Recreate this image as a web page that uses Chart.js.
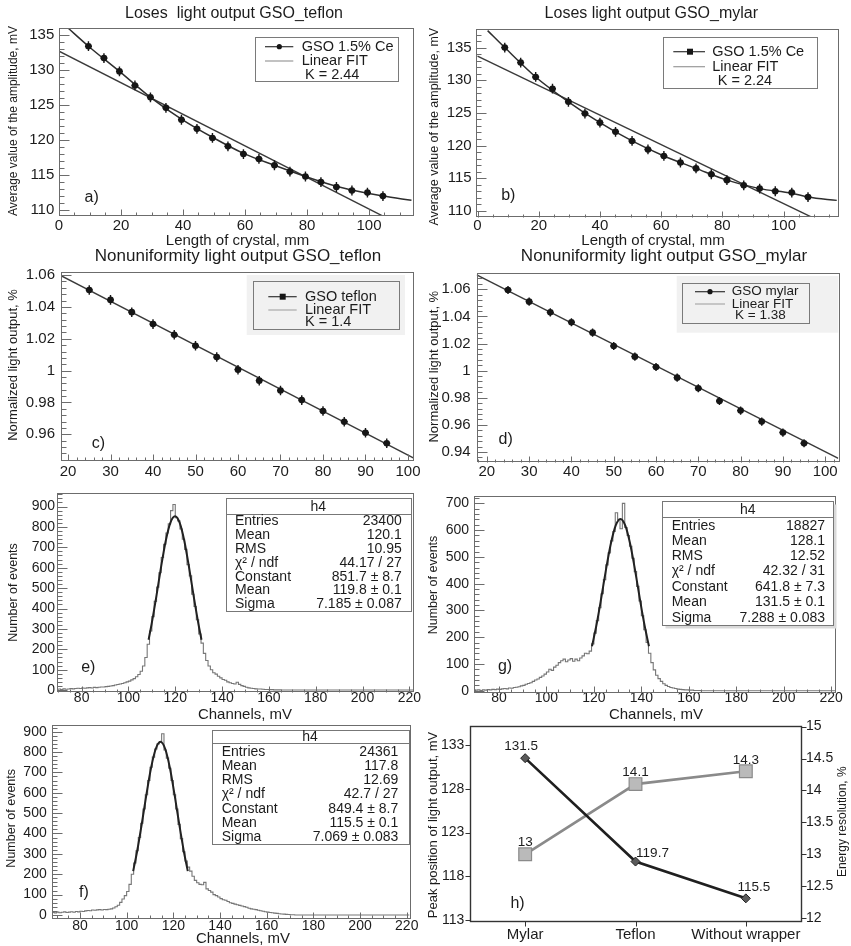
<!DOCTYPE html>
<html>
<head>
<meta charset="utf-8">
<title>GSO light output</title>
<script src="https://cdn.jsdelivr.net/npm/chart.js@4.4.1/dist/chart.umd.min.js"></script>
<style>
  html, body { margin: 0; padding: 0; background: #fff; }
  #page { position: relative; width: 851px; height: 946px; overflow: hidden; background: #fff; }
  #page canvas { position: absolute; }
</style>
</head>
<body>
<div id="page"></div>
<script>
const FONT = "'Liberation Sans', Arial, Helvetica, sans-serif";
const TXT = '#1c1c1c';
const FRAME = '#6c6c6c';

// a) b) amplitude along the crystal
const lenTeflon = [9.5, 14.5, 19.5, 24.5, 29.5, 34.5, 39.5, 44.5, 49.5, 54.5, 59.5, 64.5, 69.5, 74.5, 79.5, 84.5, 89.5, 94.5, 99.5, 104.5];
const ampTeflon = [133.4, 131.7, 129.8, 127.8, 126.1, 124.6, 122.9, 121.6, 120.3, 119.1, 118.0, 117.3, 116.4, 115.5, 114.8, 114.0, 113.3, 112.8, 112.5, 112.0];
const errTeflon = [0.7, 0.7, 0.7, 0.7, 0.7, 0.7, 0.7, 0.7, 0.7, 0.7, 0.7, 0.7, 0.7, 0.7, 0.7, 0.7, 0.7, 0.7, 0.7, 0.7];
const smoothTeflonX = [2.9, 9.5, 19.5, 29.5, 39.5, 49.5, 59.5, 69.5, 79.5, 89.5, 99.5, 104.5, 113.7];
const smoothTeflonY = [136.0, 133.4, 129.8, 126.1, 123.0, 120.4, 118.1, 116.4, 114.8, 113.4, 112.4, 112.0, 111.4];
const fitTeflonX = [0, 110];
const fitTeflonY = [132.7, 107.9];

const lenMylar = [8.9, 14.1, 19.0, 24.5, 29.7, 35.1, 40.0, 45.1, 50.5, 55.7, 60.9, 66.3, 71.4, 76.4, 81.5, 87.0, 92.2, 97.3, 102.7, 108.0];
const ampMylar = [135.0, 132.7, 130.5, 128.7, 126.7, 124.9, 123.5, 122.1, 120.7, 119.4, 118.4, 117.4, 116.5, 115.6, 114.7, 113.9, 113.4, 113.0, 112.8, 112.1];
const errMylar = [0.75, 0.75, 0.75, 0.75, 0.75, 0.75, 0.75, 0.75, 0.75, 0.75, 0.75, 0.75, 0.75, 0.75, 0.75, 0.75, 0.75, 0.75, 0.75, 0.75];
const smoothMylarX = [3.3, 8.9, 19.0, 29.7, 40.0, 50.5, 60.9, 71.4, 81.5, 92.2, 102.7, 108.0, 117.4];
const smoothMylarY = [137.6, 135.0, 130.5, 126.7, 123.5, 120.7, 118.4, 116.5, 114.7, 113.4, 112.7, 112.1, 111.6];
const fitMylarX = [0, 112];
const fitMylarY = [133.7, 108.4];

const lengthTicks = [0, 20, 40, 60, 80, 100];
const amplitudeTicks = [110, 115, 120, 125, 130, 135];

// c) d) normalized light output
const posNorm = [25, 30, 35, 40, 45, 50, 55, 60, 65, 70, 75, 80, 85, 90, 95];
const normTeflon = [1.0506, 1.0444, 1.0367, 1.0292, 1.0225, 1.0156, 1.0085, 1.0006, 0.9937, 0.9875, 0.9815, 0.9746, 0.9679, 0.9610, 0.9544];
const normMylar = [1.0595, 1.0509, 1.0430, 1.0357, 1.0280, 1.0182, 1.0103, 1.0027, 0.9948, 0.9870, 0.9776, 0.9705, 0.9624, 0.9543, 0.9464];
const errNorm = [0.003, 0.003, 0.003, 0.003, 0.003, 0.003, 0.003, 0.003, 0.003, 0.003, 0.003, 0.003, 0.003, 0.003, 0.003];
const fitNormTeflonX = [18.35, 101.25];
const fitNormTeflonY = [1.0596, 0.9452];
const fitNormMylarX = [17.6, 103.1];
const fitNormMylarY = [1.0706, 0.9353];

const positionTicks = [20, 30, 40, 50, 60, 70, 80, 90, 100];
const normTicksTeflon = [0.96, 0.98, 1, 1.02, 1.04, 1.06];
const normTicksMylar = [0.94, 0.96, 0.98, 1, 1.02, 1.04, 1.06];

// e) g) f) amplitude spectra: bin left edges (mV) and counts
const edgesEG = [
  70, 71, 72, 73, 74, 75, 76, 77, 78, 79,
  80, 81, 82, 83, 84, 85, 86, 87, 88, 89,
  90, 91, 92, 93, 94, 95, 96, 97, 98, 99,
  100, 101, 102, 103, 104, 105, 106, 107, 108, 109,
  110, 111, 112, 113, 114, 115, 116, 117, 118, 119,
  120, 121, 122, 123, 124, 125, 126, 127, 128, 129,
  130, 131, 132, 133, 134, 135, 136, 137, 138, 139,
  140, 141, 142, 143, 144, 145, 146, 147, 148, 149,
  150, 151, 152, 153, 154, 155, 156, 157, 158, 159,
  160, 161, 162, 163, 164, 165, 166, 167, 168, 169,
  222];
const countsE = [
  5, 3, 6, 4, 5, 7, 6, 8, 9, 8,
  10, 9, 11, 12, 10, 13, 12, 14, 15, 15,
  17, 18, 20, 22, 25, 27, 30, 32, 36, 40,
  44, 50, 56, 65, 76, 92, 118, 160, 225, 290,
  360, 435, 505, 575, 650, 715, 770, 815, 880, 910,
  845, 830, 790, 740, 690, 615, 560, 470, 410, 345,
  275, 230, 180, 145, 118, 100, 85, 78, 68, 60,
  52, 48, 40, 36, 32, 30, 38, 28, 22, 18,
  14, 11, 9, 8, 6, 5, 5, 4, 3, 3,
  2, 2, 1, 1, 1, 0, 0, 0, 0, 0,
  0];
const countsG = [
  2, 3, 1, 3, 2, 4, 3, 5, 4, 6,
  5, 7, 8, 7, 10, 9, 12, 13, 15, 18,
  20, 24, 27, 30, 35, 40, 44, 50, 55, 62,
  70, 80, 76, 88, 95, 105, 112, 118, 108, 115,
  120, 110, 118, 112, 122, 130, 140, 138, 148, 175,
  215, 262, 310, 362, 415, 470, 515, 560, 595, 665,
  640, 605, 700, 610, 580, 540, 495, 445, 390, 335,
  280, 228, 180, 140, 105, 78, 58, 45, 35, 26,
  20, 16, 12, 10, 8, 6, 5, 4, 3, 3,
  2, 2, 1, 1, 1, 0, 0, 0, 0, 0,
  0];
const edgesF = [
  68, 69,
  70, 71, 72, 73, 74, 75, 76, 77, 78, 79,
  80, 81, 82, 83, 84, 85, 86, 87, 88, 89,
  90, 91, 92, 93, 94, 95, 96, 97, 98, 99,
  100, 101, 102, 103, 104, 105, 106, 107, 108, 109,
  110, 111, 112, 113, 114, 115, 116, 117, 118, 119,
  120, 121, 122, 123, 124, 125, 126, 127, 128, 129,
  130, 131, 132, 133, 134, 135, 136, 137, 138, 139,
  140, 141, 142, 143, 144, 145, 146, 147, 148, 149,
  150, 151, 152, 153, 154, 155, 156, 157, 158, 159,
  160, 161, 162, 163, 164, 165, 166, 167, 168, 169,
  170, 171, 172, 173,
  222];
const countsF = [
  12, 10,
  14, 11, 13, 15, 12, 14, 16, 13, 17, 15,
  18, 17, 20, 22, 21, 24, 23, 25, 26, 24,
  27, 26, 28, 30, 34, 40, 48, 62, 78, 95,
  115, 150, 200, 255, 315, 380, 450, 520, 590, 660,
  725, 775, 815, 840, 850, 890, 810, 770, 720, 660,
  590, 520, 445, 375, 310, 265, 235, 215, 190, 170,
  158, 150, 148, 160, 128, 120, 112, 100, 95, 88,
  80, 75, 72, 66, 60, 57, 53, 50, 47, 44,
  41, 38, 33, 30, 28, 26, 23, 21, 18, 16,
  14, 12, 11, 9, 8, 6, 5, 4, 3, 2,
  1, 1, 0, 0,
  0];

// gaussian fit curves
const gaussEX = [108.6, 109.9, 111.9, 113.9, 115.9, 117.9, 119.9, 121.9, 123.9, 125.9, 127.9, 129.9, 131.2];
const gaussEY = [247, 324, 458, 601, 730, 820, 852, 820, 730, 601, 458, 324, 247];
const gaussGX = [119.2, 121.2, 123.2, 125.2, 127.2, 129.2, 131.2, 133.2, 135.2, 137.2, 139.2, 141.2, 143.2];
const gaussGY = [166, 251, 352, 458, 552, 618, 642, 618, 552, 458, 352, 251, 166];
const gaussFX = [102.8, 104.5, 106.5, 108.5, 110.5, 112.5, 114.5, 116.5, 118.5, 120.5, 122.5, 124.5, 126.2];
const gaussFY = [215, 313, 448, 593, 724, 816, 850, 816, 724, 593, 448, 313, 215];

const channelTicks = [80, 100, 120, 140, 160, 180, 200, 220];
const eventTicks900 = [0, 100, 200, 300, 400, 500, 600, 700, 800, 900];
const eventTicks700 = [0, 100, 200, 300, 400, 500, 600, 700];

const statNames = ['Entries', 'Mean', 'RMS', 'χ² / ndf', 'Constant', 'Mean', 'Sigma'];
const statsE = ['23400', '120.1', '10.95', '44.17 / 27', '851.7 ± 8.7', '119.8 ± 0.1', '7.185 ± 0.087'];
const statsG = ['18827', '128.1', '12.52', '42.32 / 31', '641.8 ± 7.3', '131.5 ± 0.1', '7.288 ± 0.083'];
const statsF = ['24361', '117.8', '12.69', '42.7 / 27', '849.4 ± 8.7', '115.5 ± 0.1', '7.069 ± 0.083'];

// h) wrapper comparison
const wrappers = ['Mylar', 'Teflon', 'Without wrapper'];
const peakPosition = [131.5, 119.7, 115.5];
const energyResolution = [13, 14.1, 14.3];
const peakTicks = [113, 118, 123, 128, 133];
const resolutionTicks = [12, 12.5, 13, 13.5, 14, 14.5, 15];

Chart.defaults.font.family = FONT;
Chart.defaults.color = TXT;

const page = document.getElementById('page');

function xy(xs, ys) {
  return xs.map((x, i) => ({ x: x, y: ys[i] }));
}

function markers(xs, ys, errs) {
  return {
    data: xy(xs, ys), showLine: false, pointStyle: 'circle', pointRadius: 3.3,
    pointBackgroundColor: '#161616', pointBorderColor: '#161616', pointBorderWidth: 0,
    errorBars: errs
  };
}

function line(xs, ys, color, width, smooth) {
  return {
    data: xy(xs, ys), borderColor: color, borderWidth: width, pointRadius: 0,
    cubicInterpolationMode: smooth ? 'monotone' : 'default', tension: 0
  };
}

function histo(xs, ys) {
  return { data: xy(xs, ys), stepped: true, borderColor: '#767676', borderWidth: 1.1, pointRadius: 0 };
}

function write(ctx, s, x, y, size, align, rot) {
  ctx.save();
  ctx.translate(x, y);
  if (rot) ctx.rotate(rot * Math.PI / 180);
  ctx.font = size + 'px ' + FONT;
  ctx.fillStyle = TXT;
  ctx.textAlign = align || 'center';
  ctx.textBaseline = 'middle';
  ctx.fillText(s, 0, 0);
  ctx.restore();
}

// ROOT style tick marks, majors from the scale, minors in between
function tickMarks(ctx, scale, a, side, spec) {
  const [majLen, minLen, nSub, out] = spec;
  const pix = scale.ticks.map((t, i) => scale.getPixelForTick(i));
  const horiz = side === 'bottom';
  const lo = horiz ? a.left : a.top, hi = horiz ? a.right : a.bottom;
  const marks = pix.map(p => [p, majLen]);
  if (nSub > 1 && pix.length > 1) {
    const step = (pix[1] - pix[0]) / nSub;
    for (let k = -nSub * 40; k <= nSub * (pix.length + 40); k++) {
      if (k % nSub === 0) continue;
      const p = pix[0] + k * step;
      if (p > lo + 0.5 && p < hi - 0.5) marks.push([p, minLen]);
    }
  }
  ctx.beginPath();
  marks.forEach(([p, len]) => {
    const q = Math.round(p) + 0.5;
    if (side === 'bottom') {
      const y0 = Math.round(a.bottom) + 0.5;
      ctx.moveTo(q, y0); ctx.lineTo(q, out ? y0 + len : y0 - len);
    } else if (side === 'left') {
      const x0 = Math.round(a.left) + 0.5;
      ctx.moveTo(x0, q); ctx.lineTo(out ? x0 - len : x0 + len, q);
    } else {
      const x0 = Math.round(a.right) + 0.5;
      ctx.moveTo(x0, q); ctx.lineTo(out ? x0 + len : x0 - len, q);
    }
  });
  ctx.stroke();
}

function drawLegend(ctx, lg, ox, oy) {
  const b = lg.box;
  ctx.save();
  if (lg.shade) {
    const s = lg.shade;
    ctx.fillStyle = '#f1f1f1';
    ctx.fillRect(s[0] - ox, s[1] - oy, s[2] - s[0], s[3] - s[1]);
  } else {
    ctx.fillStyle = '#fff';
    ctx.fillRect(b[0] - ox, b[1] - oy, b[2] - b[0], b[3] - b[1]);
  }
  ctx.strokeStyle = '#7a7a7a';
  ctx.lineWidth = 1;
  ctx.strokeRect(Math.round(b[0] - ox) + 0.5, Math.round(b[1] - oy) + 0.5, Math.round(b[2] - b[0]), Math.round(b[3] - b[1]));
  lg.rows.forEach(r => {
    const y = r.y - oy;
    if (r.line) {
      ctx.strokeStyle = r.color;
      ctx.lineWidth = 1.2;
      ctx.beginPath();
      ctx.moveTo(r.line[0] - ox, y);
      ctx.lineTo(r.line[1] - ox, y);
      ctx.stroke();
    }
    if (r.marker) {
      ctx.fillStyle = '#161616';
      ctx.beginPath();
      if (r.marker === 'dot') ctx.arc(r.mx - ox, y, 2.6, 0, Math.PI * 2);
      else ctx.rect(r.mx - ox - 3, y - 3, 6, 6);
      ctx.fill();
    }
    write(ctx, r.text, r.tx - ox, y, lg.size, 'left');
  });
  ctx.restore();
}

function drawStats(ctx, st, ox, oy) {
  const b = st.box;
  const x0 = Math.round(b[0] - ox) + 0.5, y0 = Math.round(b[1] - oy) + 0.5;
  const w = Math.round(b[2] - b[0]), h = Math.round(b[3] - b[1]);
  ctx.save();
  if (st.shadow) {
    ctx.fillStyle = '#d9d9d9';
    ctx.fillRect(x0 + 3, y0 + 3, w, h);
  }
  ctx.fillStyle = '#fff';
  ctx.fillRect(x0, y0, w, h);
  ctx.strokeStyle = '#777';
  ctx.lineWidth = 1;
  ctx.strokeRect(x0, y0, w, h);
  const hy = Math.round(st.line - oy) + 0.5;
  ctx.beginPath();
  ctx.moveTo(x0, hy);
  ctx.lineTo(x0 + w, hy);
  ctx.stroke();
  ctx.restore();
  write(ctx, 'h4', st.hx - ox, st.hy - oy, st.size);
  statNames.forEach((n, i) => {
    write(ctx, n, st.lx - ox, st.rows[i] - oy, st.size, 'left');
    write(ctx, st.values[i], st.vx - ox, st.rows[i] - oy, st.size, 'right');
  });
}

function decor(p) {
  const ox = p.canvas[0], oy = p.canvas[1];
  return {
    id: 'decor',
    afterDatasetsDraw(chart) {
      const ctx = chart.ctx, a = chart.chartArea;
      // error bars
      chart.data.datasets.forEach((ds, i) => {
        if (!ds.errorBars) return;
        const meta = chart.getDatasetMeta(i);
        const ys = chart.scales[meta.yAxisID];
        ctx.save();
        ctx.strokeStyle = '#161616';
        ctx.lineWidth = 1.4;
        ctx.beginPath();
        meta.data.forEach((pt, j) => {
          const v = ds.data[j].y, e = ds.errorBars[j];
          ctx.moveTo(pt.x, ys.getPixelForValue(v + e));
          ctx.lineTo(pt.x, ys.getPixelForValue(v - e));
          ctx.moveTo(pt.x - 3.5, pt.y);
          ctx.lineTo(pt.x + 3.5, pt.y);
        });
        ctx.stroke();
        ctx.restore();
      });
      // frame and tick marks
      ctx.save();
      ctx.strokeStyle = p.frameColor || FRAME;
      ctx.lineWidth = p.frameWidth || 1;
      ctx.strokeRect(Math.round(a.left) + 0.5, Math.round(a.top) + 0.5, Math.round(a.right - a.left), Math.round(a.bottom - a.top));
      ctx.lineWidth = 1;
      tickMarks(ctx, chart.scales.x, a, 'bottom', p.x.marks);
      tickMarks(ctx, chart.scales.y, a, 'left', p.y.marks);
      if (p.y2) tickMarks(ctx, chart.scales.y2, a, 'right', p.y2.marks);
      ctx.restore();
      // value labels next to points
      (p.pointLabels || []).forEach(pl => {
        const meta = chart.getDatasetMeta(pl.ds);
        meta.data.forEach((pt, j) => {
          write(ctx, String(chart.data.datasets[pl.ds].data[j]), pt.x + pl.off[j][0], pt.y + pl.off[j][1], pl.size);
        });
      });
      if (p.legend) drawLegend(ctx, p.legend, ox, oy);
      if (p.stats) drawStats(ctx, p.stats, ox, oy);
      p.texts.forEach(t => write(ctx, t[0], t[1] - ox, t[2] - oy, t[3], t[4] || 'center', t[5] || 0));
    }
  };
}

function axis(ax, position, fix) {
  const opts = {
    type: ax.type || 'linear',
    position: position,
    min: ax.min,
    max: ax.max,
    offset: ax.type === 'category',
    grid: { display: false, drawTicks: false },
    border: { display: false },
    ticks: {
      autoSkip: false, maxRotation: 0, minRotation: 0, padding: ax.pad, color: TXT,
      font: { family: FONT, size: ax.size, lineHeight: 1 }
    },
    afterFit: s => {
      fix(s);
      s.paddingLeft = 0; s.paddingRight = 0; s.paddingTop = 0; s.paddingBottom = 0;
    }
  };
  if (ax.values) {
    opts.afterBuildTicks = s => { s.ticks = ax.values.map(v => ({ value: v })); };
    opts.ticks.callback = v => String(+Number(v).toFixed(3));
  }
  return opts;
}

function panel(p) {
  const [cx, cy, cw, ch] = p.canvas;
  const [L, T, R, B] = p.frame;
  const canvas = document.createElement('canvas');
  canvas.width = cw;
  canvas.height = ch;
  canvas.style.left = cx + 'px';
  canvas.style.top = cy + 'px';
  page.appendChild(canvas);

  const scales = {
    x: axis(p.x, 'bottom', s => { s.height = cy + ch - B; }),
    y: axis(p.y, 'left', s => { s.width = L - cx; })
  };
  let padRight = cx + cw - R;
  if (p.y2) {
    scales.y2 = axis(p.y2, 'right', s => { s.width = cx + cw - R; });
    padRight = 0;
  }

  return new Chart(canvas, {
    type: 'line',
    data: { labels: p.labels, datasets: p.datasets },
    options: {
      responsive: false,
      animation: false,
      devicePixelRatio: 1,
      events: [],
      layout: { autoPadding: false, padding: { top: T - cy, right: padRight, bottom: 0, left: 0 } },
      plugins: { legend: { display: false }, tooltip: { enabled: false }, title: { display: false } },
      scales: scales
    },
    plugins: [decor(p)]
  });
}

// a)
panel({
  canvas: [0, 0, 425, 250],
  frame: [59, 28, 413, 215],
  x: { min: 0, max: 114.2, values: lengthTicks, size: 15, pad: 3.5, marks: [6, 3, 4] },
  y: { min: 109.3, max: 136, values: amplitudeTicks, size: 15, pad: 4.7, marks: [10, 5, 5] },
  datasets: [
    markers(lenTeflon, ampTeflon, errTeflon),
    line(smoothTeflonX, smoothTeflonY, '#2e2e2e', 1.5, true),
    line(fitTeflonX, fitTeflonY, '#3a3a3a', 1.4, false)
  ],
  texts: [
    ['Loses  light output GSO_teflon', 234, 13.3, 16],
    ['Length of crystal, mm', 237.5, 241, 15],
    ['Average value of the amplitude, mV', 14, 121, 12, 'center', -90],
    ['a)', 91.7, 197.5, 16]
  ],
  legend: {
    box: [255, 37.3, 398.3, 81], size: 14.5,
    rows: [
      { y: 46.7, text: 'GSO 1.5% Ce', tx: 301.7, line: [265, 293.3], color: '#333', marker: 'dot', mx: 279.3 },
      { y: 61, text: 'Linear FIT', tx: 301.7, line: [265, 293.3], color: '#999' },
      { y: 75, text: 'K = 2.44', tx: 305 }
    ]
  }
});

// b)
panel({
  canvas: [425, 0, 426, 250],
  frame: [476, 29.3, 838.3, 216.7],
  x: { min: -0.5, max: 117.9, values: lengthTicks, size: 15, pad: 1.5, marks: [6, 3, 4] },
  y: { min: 109.1, max: 137.8, values: amplitudeTicks, size: 15, pad: 4.3, marks: [10, 5, 5] },
  datasets: [
    markers(lenMylar, ampMylar, errMylar),
    line(smoothMylarX, smoothMylarY, '#2e2e2e', 1.5, true),
    line(fitMylarX, fitMylarY, '#3a3a3a', 1.4, false)
  ],
  texts: [
    ['Loses light output GSO_mylar', 651.3, 13.3, 16],
    ['Length of crystal, mm', 653, 241, 15],
    ['Average value of the amplitude, mV', 434.2, 126.7, 12.5, 'center', -90],
    ['b)', 508.3, 195.8, 16]
  ],
  legend: {
    box: [663.3, 37.3, 817.7, 88.3], size: 14.5,
    rows: [
      { y: 51.7, text: 'GSO 1.5% Ce', tx: 712.3, line: [673.3, 705], color: '#333', marker: 'square', mx: 690 },
      { y: 66.7, text: 'Linear FIT', tx: 712.3, line: [673.3, 705], color: '#999' },
      { y: 81, text: 'K = 2.24', tx: 717.7 }
    ]
  }
});

// c)
panel({
  canvas: [0, 244, 425, 238],
  frame: [61, 271.7, 413.3, 460],
  x: { min: 18.35, max: 101.25, values: positionTicks, size: 15, pad: 4.3, marks: [6, 3, 5] },
  y: { min: 0.9439, max: 1.0621, values: normTicksTeflon, size: 15, pad: 6, marks: [10, 5, 5] },
  datasets: [
    markers(posNorm, normTeflon, errNorm),
    line(fitNormTeflonX, fitNormTeflonY, '#3a3a3a', 1.4, false)
  ],
  texts: [
    ['Nonuniformity light output GSO_teflon', 238, 256.7, 17],
    ['Normalized light output, %', 13, 365, 13, 'center', -90],
    ['c)', 98.3, 443.3, 16]
  ],
  legend: {
    shade: [246.7, 275, 405, 335], box: [252.7, 281, 398.3, 329.3], size: 14.5,
    rows: [
      { y: 296.7, text: 'GSO teflon', tx: 305, line: [268.3, 296.7], color: '#333', marker: 'square', mx: 282.7 },
      { y: 310, text: 'Linear FIT', tx: 305, line: [268.3, 296.7], color: '#aaa' },
      { y: 321.7, text: 'K = 1.4', tx: 305 }
    ]
  }
});

// d)
panel({
  canvas: [425, 244, 426, 238],
  frame: [476.7, 273.3, 838.3, 461.7],
  x: { min: 17.6, max: 103.1, values: positionTicks, size: 15, pad: 3, marks: [6, 3, 5] },
  y: { min: 0.9328, max: 1.0718, values: normTicksMylar, size: 15, pad: 6, marks: [10, 5, 5] },
  datasets: [
    markers(posNorm, normMylar, errNorm),
    line(fitNormMylarX, fitNormMylarY, '#3a3a3a', 1.4, false)
  ],
  texts: [
    ['Nonuniformity light output GSO_mylar', 664, 256.7, 17],
    ['Normalized light output, %', 434, 366.7, 13, 'center', -90],
    ['d)', 505.7, 440, 16]
  ],
  legend: {
    shade: [676.7, 276, 838.3, 332.7], box: [682.3, 282.7, 809, 322.7], size: 13.5,
    rows: [
      { y: 291.7, text: 'GSO mylar', tx: 731.7, line: [695, 725], color: '#333', marker: 'dot', mx: 710 },
      { y: 304, text: 'Linear FIT', tx: 731.7, line: [695, 725], color: '#aaa' },
      { y: 315, text: 'K = 1.38', tx: 735 }
    ]
  }
});

// e)
panel({
  canvas: [0, 476, 425, 248],
  frame: [57.3, 493.3, 413.3, 691.7],
  x: { min: 69.6, max: 221.7, values: channelTicks, size: 14, pad: -0.5, marks: [6, 3, 4] },
  y: { min: -8, max: 965, values: eventTicks900, size: 14, pad: 2.3, marks: [10, 5, 5] },
  datasets: [
    line(gaussEX, gaussEY, '#222', 2, true),
    histo(edgesEG, countsE)
  ],
  texts: [
    ['Channels, mV', 245, 715, 15],
    ['Number of events', 14, 592.5, 12.5, 'center', -90],
    ['e)', 88.3, 667.5, 16]
  ],
  stats: {
    box: [226, 498.3, 410.7, 611.7], line: 514.3, hx: 318.3, hy: 506.7, lx: 235, vx: 401.7,
    rows: [521, 535, 549, 562.7, 576.7, 590, 604], values: statsE, size: 14
  }
});

// g)
panel({
  canvas: [425, 476, 426, 248],
  frame: [474.3, 495.7, 835, 691.7],
  x: { min: 69.6, max: 221.6, values: channelTicks, size: 14, pad: -0.5, marks: [6, 3, 4] },
  y: { min: -3.7, max: 728.6, values: eventTicks700, size: 14, pad: 5.3, marks: [10, 5, 5] },
  datasets: [
    line(gaussGX, gaussGY, '#222', 2, true),
    histo(edgesEG, countsG)
  ],
  texts: [
    ['Channels, mV', 656, 715, 15],
    ['Number of events', 434, 585, 12.5, 'center', -90],
    ['g)', 505, 666.7, 16]
  ],
  stats: {
    box: [662.3, 501, 833.3, 625], line: 516.7, hx: 747.7, hy: 510, lx: 671.7, vx: 825,
    rows: [525.7, 540.7, 555.7, 571, 586.7, 601.7, 617.7], values: statsG, size: 14, shadow: true
  }
});

// f)
panel({
  canvas: [0, 714, 425, 232],
  frame: [51.7, 725, 409.3, 918.3],
  x: { min: 67.9, max: 221.1, values: channelTicks, size: 14, pad: 0.9, marks: [6, 3, 4] },
  y: { min: -16.4, max: 932.7, values: eventTicks900, size: 14, pad: 5, marks: [10, 5, 5] },
  datasets: [
    line(gaussFX, gaussFY, '#222', 2, true),
    histo(edgesF, countsF)
  ],
  texts: [
    ['Channels, mV', 243, 939.3, 15],
    ['Number of events', 12, 818.3, 12.5, 'center', -90],
    ['f)', 84, 892.5, 16]
  ],
  stats: {
    box: [211.7, 730, 408.3, 844], line: 743.3, hx: 310, hy: 737.3, lx: 221.7, vx: 398.3,
    rows: [751.7, 766, 780, 794.3, 809, 823.3, 836.7], values: statsF, size: 14
  }
});

// h)
panel({
  canvas: [425, 714, 426, 232],
  frame: [470, 726, 801, 920.7],
  labels: wrappers,
  frameColor: '#333',
  frameWidth: 1.4,
  x: { type: 'category', size: 15, pad: 7, marks: [5, 0, 0, true] },
  y: { min: 112.95, max: 135.17, values: peakTicks, size: 14, pad: 5.7, marks: [5, 0, 0, true] },
  y2: { min: 11.96, max: 15.01, values: resolutionTicks, size: 14, pad: 5, marks: [5, 0, 0, true] },
  datasets: [
    {
      data: peakPosition, yAxisID: 'y', borderColor: '#1f1f1f', borderWidth: 2.6, tension: 0,
      pointStyle: 'rectRot', pointRadius: 4.5, pointBackgroundColor: '#5a5a5a',
      pointBorderColor: '#1f1f1f', pointBorderWidth: 1
    },
    {
      data: energyResolution, yAxisID: 'y2', borderColor: '#8a8a8a', borderWidth: 2.6, tension: 0,
      pointStyle: 'rect', pointRadius: 9, pointBackgroundColor: '#bababa',
      pointBorderColor: '#8a8a8a', pointBorderWidth: 1.2
    }
  ],
  pointLabels: [
    { ds: 0, size: 13.5, off: [[-4, -12], [17, -8], [8, -11]] },
    { ds: 1, size: 13.5, off: [[0, -12], [0, -12], [0, -11]] }
  ],
  texts: [
    ['Peak position of light output, mV', 433, 825, 13, 'center', -90],
    ['Energy resolution, %', 843, 821.7, 12, 'center', -90],
    ['h)', 517.5, 903.3, 16]
  ]
});
</script>
</body>
</html>
